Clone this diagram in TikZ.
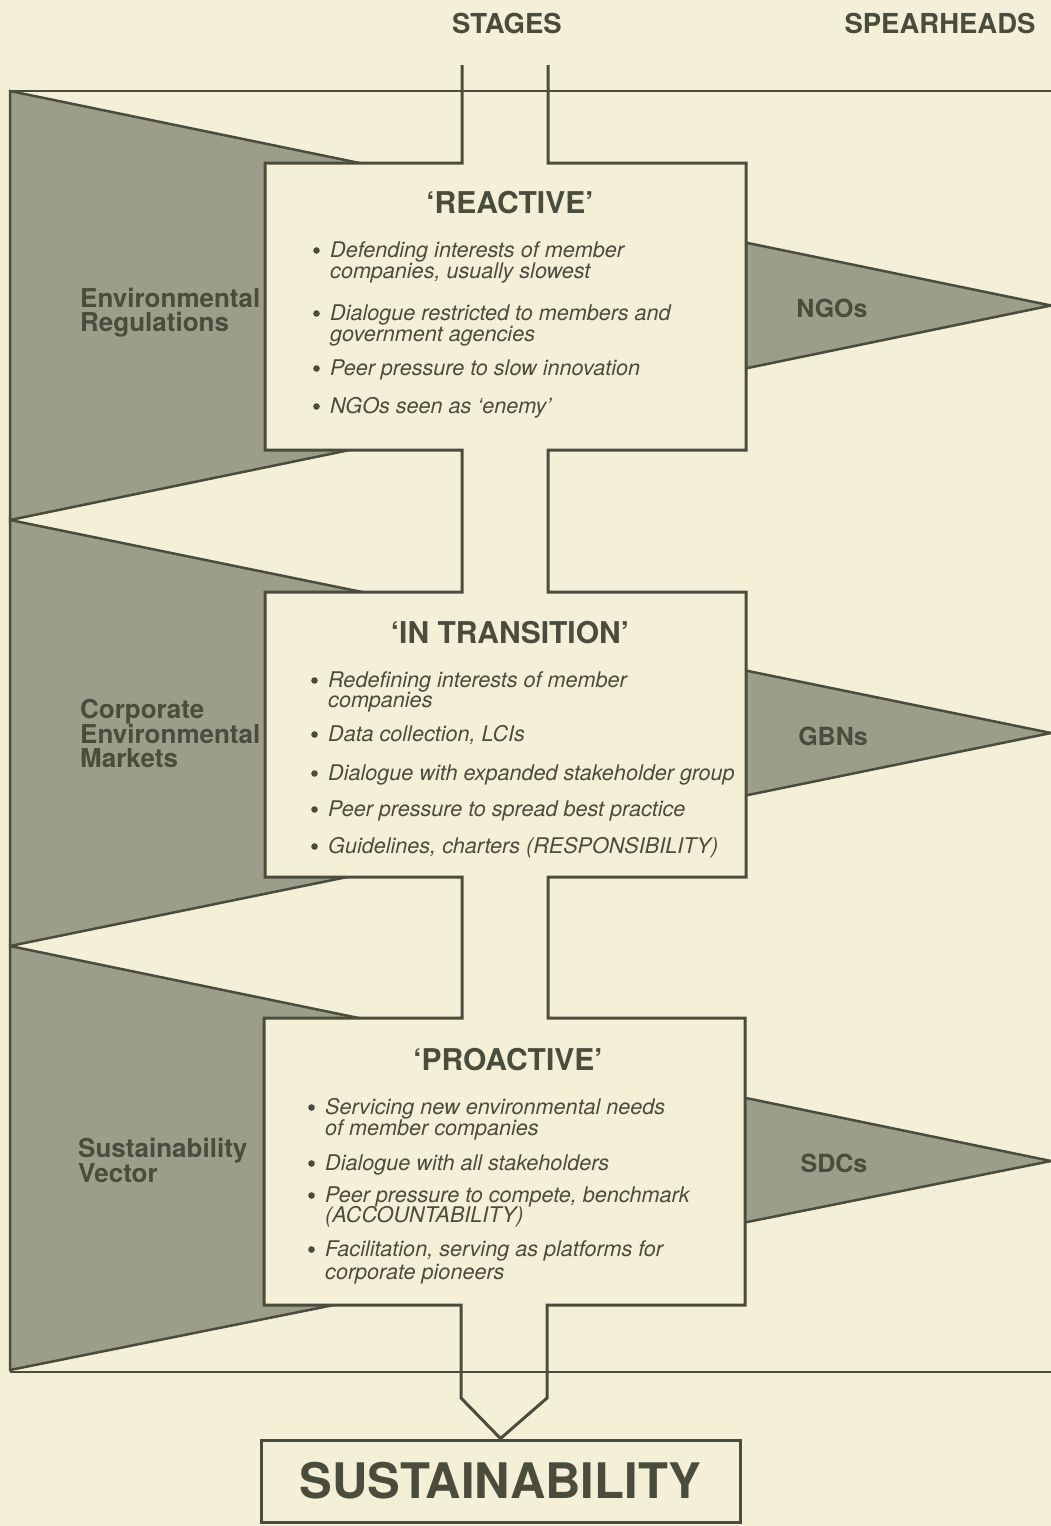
\documentclass[tikz,border=0pt]{standalone}
\usepackage{fontspec}
\setmainfont{TeX Gyre Heros}
\definecolor{bg}{RGB}{244,240,216}
\definecolor{penn}{RGB}{157,158,138}
\definecolor{ink}{RGB}{74,76,60}
\newcommand\bitem[4]{%
  \fill[ink] (#2+3.5,#3-6.5) circle (3.3pt);
  \node[itemtxt] (#1) at (#2+17,#3) {#4};}
\tikzset{
  pennant/.style={fill=penn, draw=ink, line width=2.5pt, line join=miter},
  outline/.style={fill=bg, draw=ink, line width=3pt, line join=miter},
  rule/.style={draw=ink, line width=2.5pt},
  itemtxt/.style={anchor=base west, inner sep=0pt, text=ink, font=\fontsize{21.6}{24}\selectfont\itshape},
  stagetitle/.style={anchor=base, inner sep=0pt, text=ink, font=\fontsize{30}{30}\selectfont\bfseries},
  header/.style={anchor=base, inner sep=0pt, text=ink, font=\fontsize{27.5}{27.5}\selectfont\bfseries},
  sidelabel/.style={anchor=base west, inner sep=0pt, text=ink, font=\fontsize{26}{26}\selectfont\bfseries},
  spear/.style={anchor=base, inner sep=0pt, text=ink, font=\fontsize{25}{25}\selectfont\bfseries},
  goalbox/.style={draw=ink, line width=3pt, fill=bg, text=ink, inner sep=0pt,
    minimum width=479pt, minimum height=82pt, font=\fontsize{49}{49}\selectfont\bfseries}
}
\begin{document}
\begin{tikzpicture}[x=1pt,y=-1pt]
\fill[bg] (0,0) rectangle (1051,1526);
\useasboundingbox (0,0) rectangle (1051,1526);

% pennants (left wedges continuing as spearheads on the right)
\path[pennant] (10,91) -- (1051,305.5) -- (10,520) -- cycle;
\path[pennant] (10,520) -- (1051,733) -- (10,946) -- cycle;
\path[pennant] (10,946) -- (1051,1161) -- (10,1370) -- cycle;

% goal box
\node[goalbox] (sus) at (500.5,1481) {SUSTAINABILITY};

% stages outline
\path[outline] (462,65) -- (462,163) -- (265,163) -- (265,450) -- (462,450)
  -- (462,592) -- (265,592) -- (265,877) -- (462,877)
  -- (462,1018) -- (264,1018) -- (264,1305) -- (461,1305)
  -- (461,1398) -- (sus.north) -- (547,1398) -- (547,1305)
  -- (745,1305) -- (745,1018) -- (548,1018) -- (548,877)
  -- (746,877) -- (746,592) -- (548,592) -- (548,450)
  -- (746,450) -- (746,163) -- (548,163) -- (548,65);

% horizontal rules
\draw[rule] (10,91) -- (1051,91);
\draw[rule] (10,1372) -- (1051,1372);

% headers
\node[header] (stages) at (507,33) {STAGES};
\node[header] (spearheads) at (940,33) {SPEARHEADS};

% left labels
\node[sidelabel] (l1a) at (80,307) {Environmental};
\node[sidelabel] (l1b) at (80,331) {Regulations};
\node[sidelabel] (l2a) at (80,718) {Corporate};
\node[sidelabel] (l2b) at (80,743) {Environmental};
\node[sidelabel] (l2c) at (80,767) {Markets};
\node[sidelabel] (l3a) at (78,1157) {Sustainability};
\node[sidelabel] (l3b) at (78,1182) {Vector};

% spearheads
\node[spear] (ngo) at (832,317) {NGOs};
\node[spear] (gbn) at (833,745) {GBNs};
\node[spear] (sdc) at (834,1172) {SDCs};

% REACTIVE
\node[stagetitle] (t1) at (510,213) {‘REACTIVE’};
\bitem{r1}{313}{257}{Defending interests of member}
\node[itemtxt] (r1b) at (330,278) {companies, usually slowest};
\bitem{r2}{313}{320}{Dialogue restricted to members and}
\node[itemtxt] (r2b) at (330,341) {government agencies};
\bitem{r3}{313}{375}{Peer pressure to slow innovation}
\bitem{r4}{313}{413}{NGOs seen as ‘enemy’}

% IN TRANSITION
\node[stagetitle] (t2) at (510,643) {‘IN TRANSITION’};
\bitem{i1}{311}{687}{Redefining interests of member}
\node[itemtxt] (i1b) at (328,707) {companies};
\bitem{i2}{311}{741}{Data collection, LCIs}
\bitem{i3}{311}{780}{Dialogue with expanded stakeholder group}
\bitem{i4}{311}{816}{Peer pressure to spread best practice}
\bitem{i5}{311}{853}{Guidelines, charters (RESPONSIBILITY)}

% PROACTIVE
\node[stagetitle] (t3) at (508,1070) {‘PROACTIVE’};
\bitem{p1}{308}{1114}{Servicing new environmental needs}
\node[itemtxt] (p1b) at (325,1135) {of member companies};
\bitem{p2}{308}{1170}{Dialogue with all stakeholders}
\bitem{p3}{308}{1202}{Peer pressure to compete, benchmark}
\node[itemtxt] (p3b) at (325,1222) {(ACCOUNTABILITY)};
\bitem{p4}{308}{1256}{Facilitation, serving as platforms for}
\node[itemtxt] (p4b) at (325,1279) {corporate pioneers};
\end{tikzpicture}
\end{document}
